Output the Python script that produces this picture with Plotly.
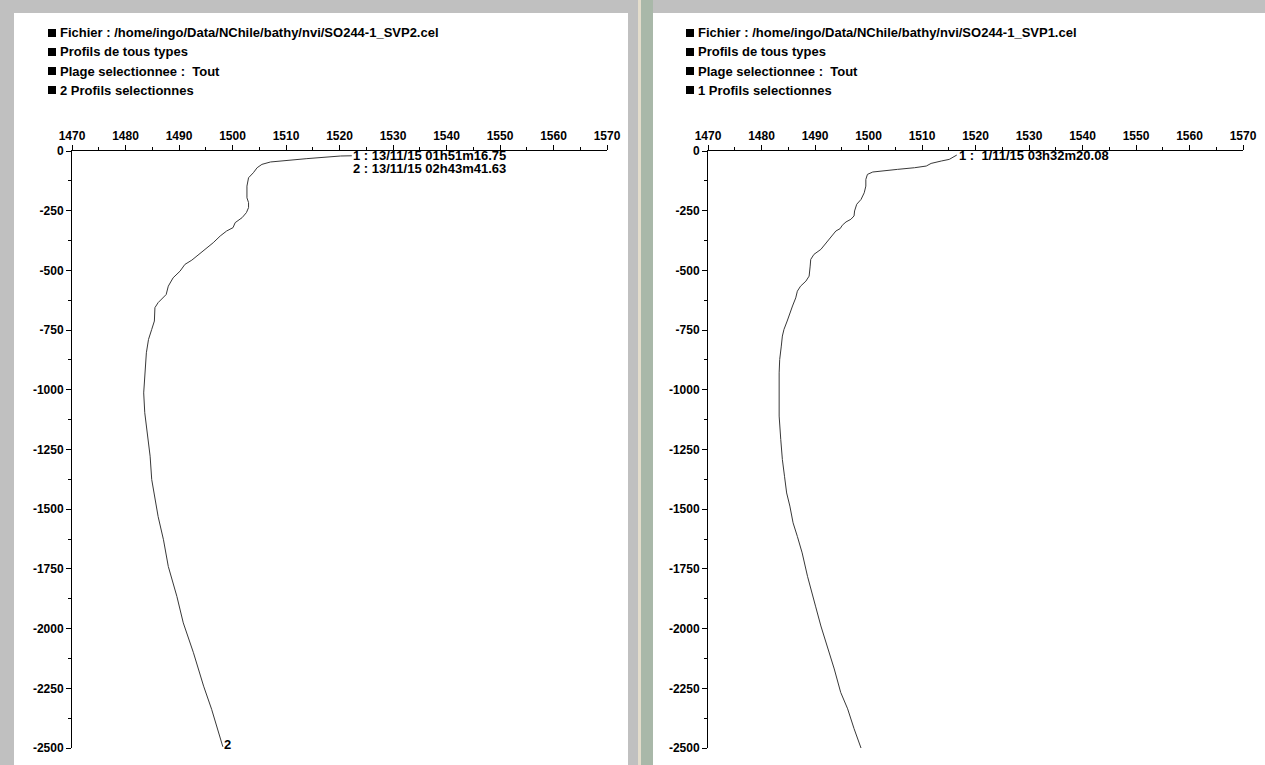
import plotly.graph_objects as go

W, H = 1265, 765

# Sound-velocity profiles: speed (m/s) versus depth (m)
svp2_speed = [1522.3, 1520.2, 1513.9, 1508.9, 1507.1, 1505.5, 1504.6, 1503.9, 1503.0, 1502.7,
              1502.7, 1503.0, 1503.0, 1502.6, 1501.8, 1500.5, 1500.1, 1498.9, 1497.7, 1496.4,
              1495.2, 1493.6, 1492.4, 1491.1, 1490.2, 1488.9, 1488.0, 1487.6, 1486.8, 1486.1,
              1485.5, 1485.4, 1484.9, 1484.3, 1483.9, 1483.6, 1483.4, 1483.6, 1484.1, 1484.6,
              1484.9, 1485.5, 1486.1, 1487.1, 1488.0, 1489.6, 1490.8, 1492.7, 1494.6, 1496.1,
              1497.7, 1498.2]
svp2_depth = [20, 21, 32, 43, 46, 56, 70, 91, 112, 147,
              196, 216, 237, 258, 279, 300, 321, 335, 356, 384,
              405, 433, 457, 475, 503, 531, 566, 601, 619, 635,
              656, 712, 747, 789, 845, 929, 1013, 1096, 1180, 1278,
              1376, 1459, 1531, 1628, 1740, 1865, 1976, 2101, 2241, 2338,
              2450, 2495]

svp1_speed = [1516.5, 1515.9, 1515.1, 1513.6, 1511.7, 1510.8, 1508.6, 1505.4, 1502.3, 1500.8,
              1499.8, 1499.5, 1499.5, 1499.2, 1498.6, 1497.8, 1497.4, 1497.3, 1496.7, 1495.8,
              1495.1, 1494.7, 1493.9, 1492.9, 1492.0, 1491.1, 1489.8, 1489.2, 1489.1, 1488.9,
              1488.3, 1487.3, 1486.7, 1486.4, 1485.8, 1485.4, 1484.8, 1484.2, 1483.9, 1483.7,
              1483.4, 1483.3, 1483.3, 1483.3, 1483.6, 1483.9, 1484.3, 1484.7, 1485.3, 1485.9,
              1486.7, 1487.6, 1488.6, 1489.2, 1490.1, 1491.1, 1492.3, 1493.6, 1494.8, 1496.1,
              1497.3, 1498.6]
svp1_depth = [17, 26, 35, 42, 52, 63, 70, 77, 84, 88,
              98, 119, 147, 175, 203, 223, 251, 272, 286, 297,
              311, 325, 335, 363, 391, 412, 433, 454, 482, 524,
              545, 566, 587, 615, 649, 677, 712, 747, 775, 817,
              873, 929, 1013, 1110, 1208, 1292, 1362, 1432, 1487, 1557,
              1614, 1683, 1781, 1836, 1906, 1989, 2072, 2169, 2267, 2336,
              2419, 2500]

speed_ticks = [1470, 1480, 1490, 1500, 1510, 1520, 1530, 1540, 1550, 1560, 1570]
depth_ticks = [0, -250, -500, -750, -1000, -1250, -1500, -1750, -2000, -2250, -2500]
depth_labels = ["0", "-250", "-500", "-750", "-1000", "-1250", "-1500", "-1750",
                "-2000", "-2250", "-2500"]

header_left = ["Fichier : /home/ingo/Data/NChile/bathy/nvi/SO244-1_SVP2.cel",
               "Profils de tous types",
               "Plage selectionnee :\u00a0 Tout",
               "2 Profils selectionnes"]
header_right = ["Fichier : /home/ingo/Data/NChile/bathy/nvi/SO244-1_SVP1.cel",
                "Profils de tous types",
                "Plage selectionnee :\u00a0 Tout",
                "1 Profils selectionnes"]
profile_labels_left = ["1 : 13/11/15 01h51m16.75", "2 : 13/11/15 02h43m41.63"]
profile_labels_right = ["1 :\u00a0 1/11/15 03h32m20.08"]

FONT = "Liberation Sans, Arial, sans-serif"
HEAD = dict(family=FONT, size=13, color="black", weight="bold")
LBL = dict(family=FONT, size=13, color="black", weight="bold")
TICK = dict(family=FONT, size=12, color="black", weight="bold")


def px(x):
    return x / W


def py(y):
    return 1 - y / H


fig = go.Figure()
fig.add_trace(go.Scatter(x=svp2_speed, y=[-d for d in svp2_depth], mode="lines",
                         line=dict(color="#383838", width=1), xaxis="x", yaxis="y",
                         hoverinfo="skip"))
fig.add_trace(go.Scatter(x=svp1_speed, y=[-d for d in svp1_depth], mode="lines",
                         line=dict(color="#383838", width=1), xaxis="x2", yaxis="y2",
                         hoverinfo="skip"))

shapes = []
# window background panels and splitter
shapes.append(dict(type="rect", xref="paper", yref="paper", x0=px(14), x1=px(628),
                   y0=0, y1=py(13), fillcolor="white", line_width=0, layer="below"))
shapes.append(dict(type="rect", xref="paper", yref="paper", x0=px(653), x1=1,
                   y0=0, y1=py(13), fillcolor="white", line_width=0, layer="below"))
shapes.append(dict(type="rect", xref="paper", yref="paper", x0=px(638), x1=px(641),
                   y0=0, y1=1, fillcolor="#e4ddcc", line_width=0, layer="below"))
shapes.append(dict(type="rect", xref="paper", yref="paper", x0=px(641), x1=px(653),
                   y0=0, y1=1, fillcolor="#a9b8a9", line_width=0, layer="below"))

annotations = []
for panel_x, lines in ((48, header_left), (686, header_right)):
    for i, t in enumerate(lines):
        yc = 33 + 19 * i
        shapes.append(dict(type="rect", xref="paper", yref="paper",
                           x0=px(panel_x), x1=px(panel_x + 8),
                           y0=py(yc + 4), y1=py(yc - 4),
                           fillcolor="black", line_width=0))
        annotations.append(dict(text=t, xref="paper", yref="paper", x=px(panel_x + 10),
                                y=py(yc), xanchor="left", yanchor="middle",
                                showarrow=False, font=HEAD))

# profile labels at the start of each profile
for i, t in enumerate(profile_labels_left):
    annotations.append(dict(text=t, xref="x", yref="y", x=svp2_speed[0], y=-svp2_depth[0],
                            xanchor="left", yanchor="middle", xshift=-1, yshift=-13 * i,
                            showarrow=False, font=LBL))
annotations.append(dict(text="2", xref="x", yref="y", x=svp2_speed[-1], y=-svp2_depth[-1],
                        xanchor="left", yanchor="middle", xshift=-1, yshift=2,
                        showarrow=False, font=LBL))
annotations.append(dict(text=profile_labels_right[0], xref="x2", yref="y2",
                        x=svp1_speed[0], y=-svp1_depth[0], xanchor="left",
                        yanchor="middle", xshift=0, showarrow=False, font=LBL))

xcommon = dict(range=[1470, 1570], side="top", tickmode="array", tickvals=speed_ticks,
               ticks="outside", ticklen=5, tickcolor="black", showline=True,
               linecolor="black", linewidth=1, showgrid=False, zeroline=False,
               automargin=False, fixedrange=True,
               tickfont=TICK, minor=dict(tickmode="linear", tick0=1470, dtick=5,
                                         ticks="outside", ticklen=3, tickcolor="black"))
ycommon = dict(range=[-2500, 0], tickmode="array", tickvals=depth_ticks, ticktext=depth_labels,
               ticks="outside", ticklen=5, tickcolor="black", showline=True,
               linecolor="black", linewidth=1, showgrid=False, zeroline=False,
               automargin=False, fixedrange=True,
               tickfont=TICK, minor=dict(tickmode="linear", tick0=0, dtick=125,
                                         ticks="outside", ticklen=3, tickcolor="black"))

fig.update_layout(
    width=W, height=H, autosize=False,
    margin=dict(l=0, r=0, t=0, b=0, pad=0, autoexpand=False),
    paper_bgcolor="#c0c0c0", plot_bgcolor="white",
    showlegend=False,
    xaxis=dict(domain=[px(72), px(607)], anchor="y", **xcommon),
    yaxis=dict(domain=[py(748), py(151)], anchor="x", **ycommon),
    xaxis2=dict(domain=[px(708), px(1243)], anchor="y2", **xcommon),
    yaxis2=dict(domain=[py(748), py(151)], anchor="x2", **ycommon),
    shapes=shapes, annotations=annotations,
)

fig.write_html("out.html", config={"displayModeBar": False})
